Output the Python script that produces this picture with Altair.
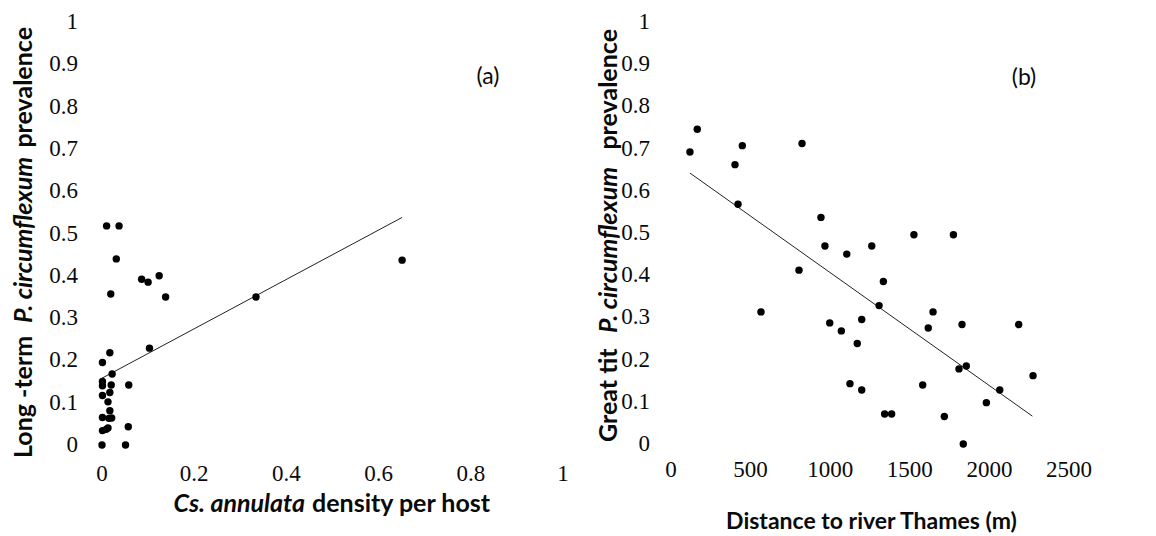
import altair as alt
import pandas as pd

# ---------------- data ----------------
a_density = [0.010, 0.037, 0.031, 0.019, 0.086, 0.100, 0.124, 0.138, 0.017, 0.103,
             0.001, 0.022, 0.001, 0.001, 0.020, 0.058, 0.001, 0.017, 0.013, 0.017,
             0.001, 0.015, 0.021, 0.001, 0.013, 0.057, 0.000, 0.051, 0.334, 0.651,
             0.009]
a_prev = [0.518, 0.518, 0.440, 0.357, 0.392, 0.385, 0.400, 0.350, 0.218, 0.229,
          0.195, 0.168, 0.150, 0.140, 0.142, 0.142, 0.117, 0.124, 0.102, 0.081,
          0.065, 0.063, 0.064, 0.034, 0.040, 0.043, 0.000, 0.000, 0.350, 0.437,
          0.037]
a_fit_x = [0.0, 0.651]
a_fit_y = [0.158, 0.538]

b_dist = [119, 165, 402, 448, 823, 421, 942, 967, 1104, 1261, 1526, 1774, 804, 1334,
          565, 1307, 1646, 997, 1198, 1070, 1616, 1828, 2184, 1170, 1809, 1855, 2274,
          1124, 1198, 1581, 2065, 1981, 1342, 1386, 1717, 1836]
b_prev = [0.692, 0.746, 0.662, 0.707, 0.712, 0.568, 0.537, 0.469, 0.450, 0.469, 0.496,
          0.496, 0.412, 0.385, 0.313, 0.328, 0.313, 0.287, 0.295, 0.268, 0.275, 0.283,
          0.283, 0.238, 0.178, 0.185, 0.162, 0.143, 0.128, 0.140, 0.128, 0.098, 0.071,
          0.071, 0.065, 0.000]
b_fit_x = [119, 2270]
b_fit_y = [0.642, 0.066]

a_xticks = [0, 0.2, 0.4, 0.6, 0.8, 1]
a_xlabels = ["0", "0.2", "0.4", "0.6", "0.8", "1"]
y_ticks = [0, 0.1, 0.2, 0.3, 0.4, 0.5, 0.6, 0.7, 0.8, 0.9, 1]
y_labels = ["0", "0.1", "0.2", "0.3", "0.4", "0.5", "0.6", "0.7", "0.8", "0.9", "1"]
b_xticks = [0, 500, 1000, 1500, 2000, 2500]
b_xlabels = ["0", "500", "1000", "1500", "2000", "2500"]

# ---------------- styles ----------------
TICK_FONT = "Liberation Serif"
TITLE_FONT = "Lato"
TICK_SIZE = 23
YT_SIZE = 25
DOMAIN = "#8a8a8a"
INK = "#0a0a0a"


def txt(s, x, y, size, angle=0, align="left", style="normal", weight="bold"):
    return alt.Chart(alt.Data(values=[{}])).mark_text(
        text=s, font=TITLE_FONT, fontSize=size, fontStyle=style, fontWeight=weight,
        angle=angle, align=align, baseline="alphabetic", color=INK
    ).encode(x=alt.value(x), y=alt.value(y))


def axis():
    return alt.Axis(title=None, ticks=False, grid=False, labels=False,
                    domainColor=DOMAIN, domainWidth=1)


def ylabels(scale, pad):
    df = pd.DataFrame({"v": y_ticks, "t": y_labels})
    return alt.Chart(df).mark_text(
        font=TICK_FONT, fontSize=TICK_SIZE, color=INK, align="right", baseline="middle", dx=-pad
    ).encode(y=alt.Y("v:Q", scale=scale, axis=None), x=alt.value(0), text="t:N")


def xlabels(vals, labs, scale, ypos):
    df = pd.DataFrame({"v": vals, "t": labs})
    return alt.Chart(df).mark_text(
        font=TICK_FONT, fontSize=TICK_SIZE, color=INK, align="center", baseline="top"
    ).encode(x=alt.X("v:Q", scale=scale, axis=None), y=alt.value(ypos), text="t:N")


# ---------------- panel (a) ----------------
WA, HA = 461, 423
df_a = pd.DataFrame({"x": a_density, "y": a_prev})
fit_a = pd.DataFrame({"x": a_fit_x, "y": a_fit_y})
sxa = alt.Scale(domain=[0, 1], nice=False, zero=False)
sya = alt.Scale(domain=[0, 1], nice=False)
xa = alt.X("x:Q", scale=sxa, axis=axis())
ya = alt.Y("y:Q", scale=sya, axis=axis())

pts_a = alt.Chart(df_a).mark_circle(size=55, color="black", opacity=1).encode(x=xa, y=ya)
line_a = alt.Chart(fit_a).mark_line(color="#222222", strokeWidth=1).encode(x=xa, y=ya)

panel_a = alt.layer(
    line_a, pts_a,
    ylabels(sya, 24),
    xlabels(a_xticks, a_xlabels, sxa, HA + 18),
    txt("(a)", 489 - 103, 84 - 22, 23, align="center", weight="normal"),
    txt("Cs. annulata", 306 - 103, 512 - 22, 25, align="right", style="italic"),
    txt("density per host", 313 - 103, 512 - 22, 25, align="left"),
    txt("Long -term", 33 - 103, 458 - 22, YT_SIZE, angle=270, align="left"),
    txt("P. circumflexum", 33 - 103, 240 - 22, YT_SIZE, angle=270, align="center", style="italic"),
    txt("prevalence", 33 - 103, 27 - 22, YT_SIZE, angle=270, align="right"),
).properties(width=WA, height=HA)

# ---------------- panel (b) ----------------
WB, HB = 398, 422
df_b = pd.DataFrame({"x": b_dist, "y": b_prev})
fit_b = pd.DataFrame({"x": b_fit_x, "y": b_fit_y})
sxb = alt.Scale(domain=[0, 2500], nice=False, zero=False)
syb = alt.Scale(domain=[0, 1], nice=False)
xb = alt.X("x:Q", scale=sxb, axis=axis())
yb = alt.Y("y:Q", scale=syb, axis=axis())

pts_b = alt.Chart(df_b).mark_circle(size=55, color="black", opacity=1).encode(x=xb, y=yb)
line_b = alt.Chart(fit_b).mark_line(color="#222222", strokeWidth=1).encode(x=xb, y=yb)

panel_b = alt.layer(
    line_b, pts_b,
    ylabels(syb, 21),
    xlabels(b_xticks, b_xlabels, sxb, HB + 15),
    txt("(b)", 1025 - 672, 85 - 22, 23, align="center", weight="normal"),
    txt("Distance to river Thames (m)", (728 + 1017) / 2 - 672, 529 - 22, 23, align="center"),
    txt("Great tit", 618 - 672, 442 - 22, YT_SIZE, angle=270, align="left"),
    txt("P. circumflexum", 618 - 672, 250 - 22, YT_SIZE, angle=270, align="center", style="italic"),
    txt("prevalence", 618 - 672, 29 - 22, YT_SIZE, angle=270, align="right"),
).properties(width=WB, height=HB)

chart = alt.hconcat(panel_a, panel_b, spacing=108, bounds="flush").properties(
    padding={"left": 12, "top": 11, "right": 5, "bottom": 5},
    background="white",
).configure_view(stroke=None)

chart.save("out.html", embed_options={"renderer": "svg", "actions": False})
